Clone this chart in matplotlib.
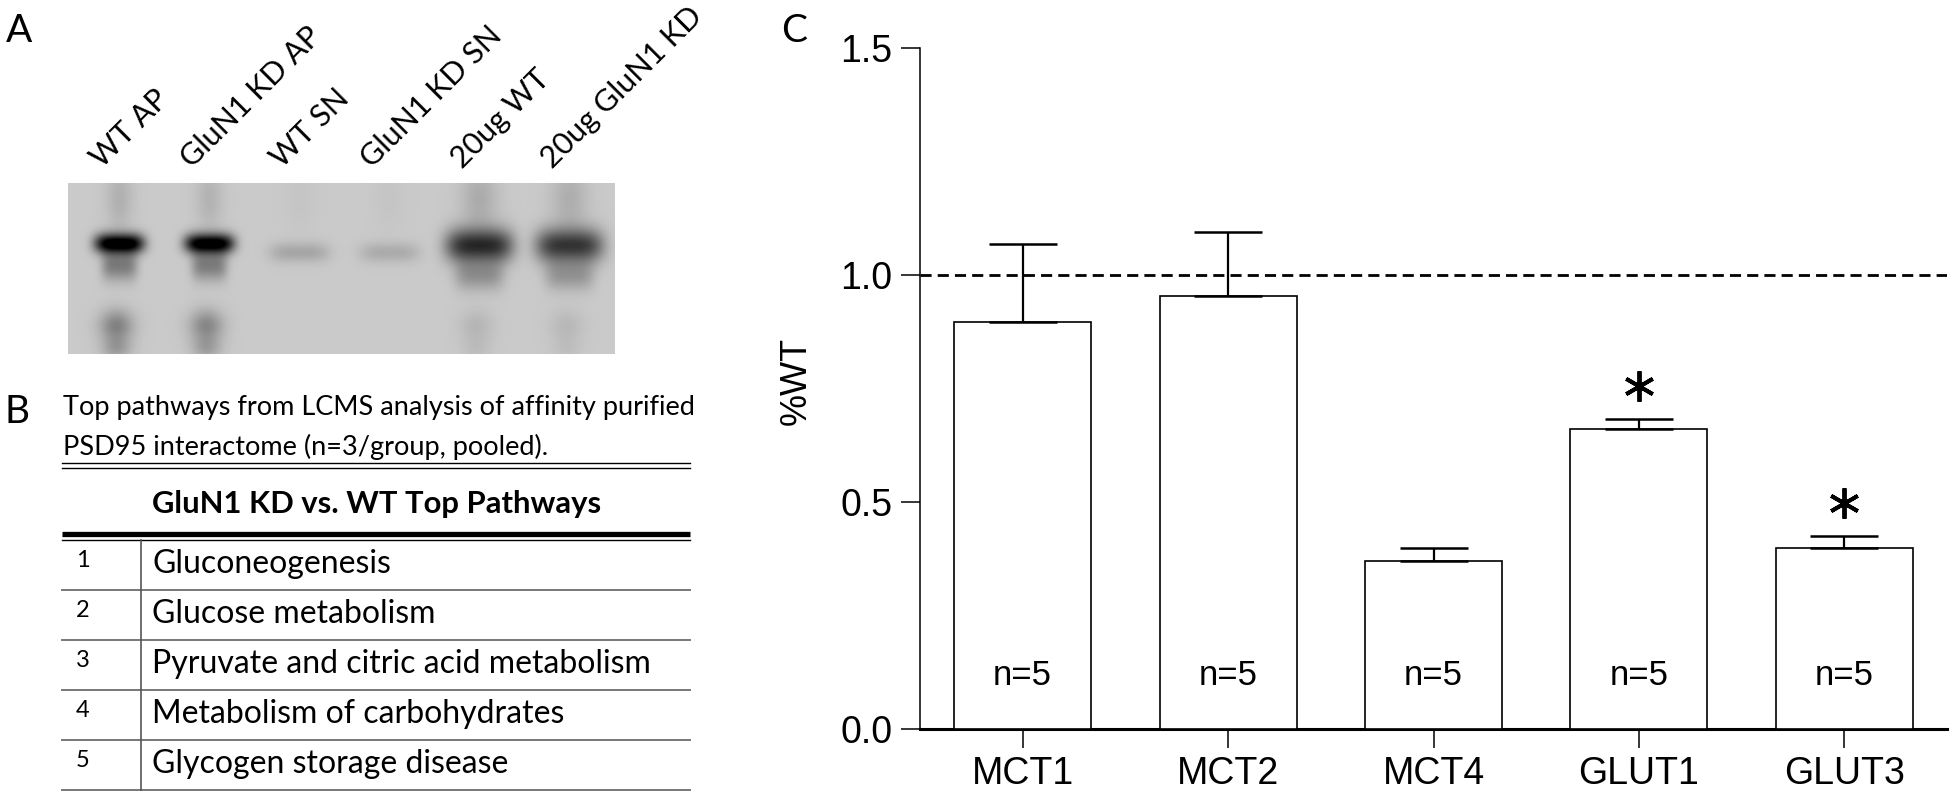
import numpy as np
import matplotlib
matplotlib.use("Agg")
import matplotlib.pyplot as plt

# ---- data ----
lane_labels = ["WT AP", "GluN1 KD AP", "WT SN", "GluN1 KD SN", "20ug WT", "20ug GluN1 KD"]
band_strength = [0.88, 0.86, 0.14, 0.12, 0.62, 0.57]
lower_band_strength = [0.28, 0.26, 0.0, 0.0, 0.08, 0.07]
streak_strength = [0.10, 0.09, 0.02, 0.02, 0.12, 0.11]

subtitle = ["Top pathways from LCMS analysis of affinity purified",
            "PSD95 interactome (n=3/group, pooled)."]
table_title = "GluN1 KD vs. WT Top Pathways"
ranks = ["1", "2", "3", "4", "5"]
pathways = ["Gluconeogenesis", "Glucose metabolism",
            "Pyruvate and citric acid metabolism",
            "Metabolism of carbohydrates", "Glycogen storage disease"]

genes = ["MCT1", "MCT2", "MCT4", "GLUT1", "GLUT3"]
means = [0.896, 0.954, 0.370, 0.661, 0.398]
sems = [0.172, 0.139, 0.028, 0.022, 0.027]
n_per_group = [5, 5, 5, 5, 5]
significant = [False, False, False, True, True]

W, H = 1950, 809
plt.rcParams["font.family"] = ["Liberation Sans", "DejaVu Sans"]
LATO = ["Lato", "DejaVu Sans"]

fig = plt.figure(figsize=(W / 100, H / 100), dpi=100)

# pixel-coordinate canvas for panels A and B
bg = fig.add_axes([0, 0, 1, 1])
bg.axis("off")

# ---- panel A: blot ----
bh, bw = 171, 547
yy, xx = np.mgrid[0:bh, 0:bw].astype(float)


def blob(cx, cy, sx, sy, amp, p=1):
    return amp * np.exp(-np.abs((xx - cx) / sx) ** (2 * p) - ((yy - cy) / sy) ** 2)


dark = np.zeros_like(xx)
for i, s in enumerate(band_strength):
    cx = 51 + i * 90
    big = i >= 4
    faint = i in (2, 3)
    cy = 62 if big else (60 if i < 2 else 69)
    sx = 34 if big else (25 if i < 2 else 30)
    sy = 17 if big else 10
    dark += blob(cx, cy, sx, sy, s, p=2)
    if not faint:
        dark += blob(cx, cy + (30 if big else 22), sx * 0.72, 15, s * 0.35, p=2)
    dark += blob(cx, 15, sx * 0.55, 35, streak_strength[i])
    dark += blob(cx - 3, 142, 17, 16, lower_band_strength[i])
    dark += blob(cx - 3, 165, 15, 12, lower_band_strength[i] * 0.6)
img = np.clip(0.79 - dark, 0, 1)
bg.imshow(img, cmap="gray", vmin=0, vmax=1, extent=(68, 615, 354, 183),
          aspect="auto", interpolation="bilinear")

for i, lab in enumerate(lane_labels):
    bg.text(51 + 68 + i * 90 - 17, 169, lab, rotation=45, rotation_mode="anchor",
            ha="left", va="baseline", fontsize=22, family=LATO)

bg.text(6, 42, "A", fontsize=28, family=LATO, va="baseline")

# ---- panel B: table ----
bg.text(5, 423, "B", fontsize=28, family=LATO, va="baseline")
for k, line in enumerate(subtitle):
    bg.text(63, 415 + 40 * k, line, fontsize=19.5, family=LATO, va="baseline")
bg.plot([62, 690], [463, 463], color="black", lw=1.0)
bg.plot([62, 690], [467.5, 467.5], color="black", lw=1.0)
bg.text(152, 513, table_title, fontsize=22.3, family=LATO, weight="bold", va="baseline")
bg.plot([62, 690], [533.5, 533.5], color="black", lw=3.8, solid_capstyle="butt")
bg.plot([62, 690], [539.5, 539.5], color="black", lw=1.0)
for k, (r, p) in enumerate(zip(ranks, pathways)):
    base = 540 + 50 * k
    bg.text(76, base + 27, r, fontsize=17, family=LATO, va="baseline")
    bg.text(152, base + 33, p, fontsize=23, family=LATO, va="baseline")
    bg.plot([62, 690], [base + 49.5, base + 49.5], color="#777777", lw=1.4)
bg.plot([141, 141], [540, 790], color="#555555", lw=1.2)

bg.set_xlim(0, W)
bg.set_ylim(H, 0)

# ---- panel C: bar chart ----
bg.text(781, 42, "C", fontsize=28, family=LATO, va="baseline")
bg.text(796, 381, "%WT", rotation=90, ha="center", va="center", fontsize=26)

ax = fig.add_axes([920 / W, (H - 729) / H, 1027 / W, 681.5 / H])
ax.patch.set_alpha(0)
x = np.arange(len(genes))
ax.axhline(1.0, color="black", lw=2.0, dashes=(4.0, 2.2), zorder=2)
ax.bar(x, means, width=0.667, color="white", edgecolor="black", linewidth=1.2, zorder=3)
ax.errorbar(x, means, yerr=[np.zeros(len(x)), sems], fmt="none", ecolor="black",
            elinewidth=1.6, capsize=24.5, capthick=1.8, zorder=4)
for i, n in enumerate(n_per_group):
    ax.text(i, 0.097, f"n={n}", ha="center", va="baseline", fontsize=25, zorder=5)
sig_x = [i for i, s in enumerate(significant) if s]
sig_y = [means[i] + sems[i] + 0.072 for i in sig_x]
ax.plot(sig_x, sig_y, ls="none", marker=(6, 2, 0), ms=22, mew=2.8, color="black", zorder=5)

ax.set_xlim(-0.5, 4.5)
ax.set_ylim(0, 1.5)
ax.set_yticks([0, 0.5, 1.0, 1.5])
ax.set_yticklabels(["0.0", "0.5", "1.0", "1.5"])
ax.set_xticks(x)
ax.set_xticklabels(genes)
ax.tick_params(direction="out", length=13.7, width=1.1, labelsize=27, pad=6)
ax.spines["top"].set_visible(False)
ax.spines["right"].set_visible(False)
ax.spines["left"].set_linewidth(1.1)
ax.spines["bottom"].set_linewidth(2.2)

fig.savefig("out.png", dpi=100)
plt.close(fig)
